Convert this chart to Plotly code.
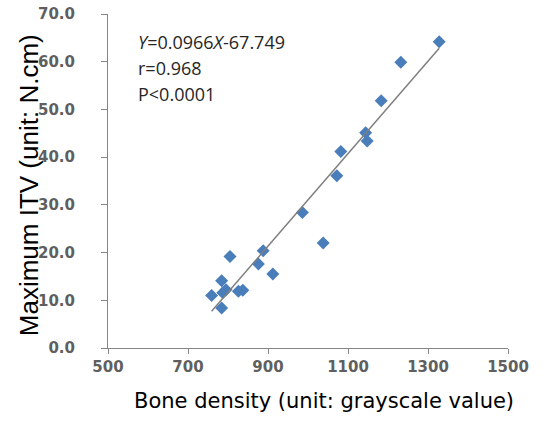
import plotly.graph_objects as go

# Data
bone_density = [759, 784, 784, 787, 795, 805, 826, 837, 876, 888, 912,
                986, 1038, 1072, 1082, 1144, 1148, 1183, 1232, 1328]
max_itv = [11.0, 14.1, 8.4, 11.6, 12.2, 19.2, 11.9, 12.1, 17.6, 20.4, 15.5,
           28.4, 22.0, 36.1, 41.2, 45.1, 43.4, 51.8, 59.9, 64.2]
fit_x = [759, 1328]
fit_y = [7.7, 62.8]

x_ticks = [500, 700, 900, 1100, 1300, 1500]
y_ticks = [0, 10, 20, 30, 40, 50, 60, 70]

fig = go.Figure()
fig.add_trace(go.Scatter(x=bone_density, y=max_itv, mode="markers",
                         marker=dict(symbol="diamond", size=10, color="#4A7EBB"),
                         showlegend=False))
fig.add_trace(go.Scatter(x=fit_x, y=fit_y, mode="lines",
                         line=dict(color="#7F7F7F", width=1.5),
                         showlegend=False))

tick_font = dict(family="DejaVu Sans", size=15, color="#5F5F5F", weight="bold")
title_font_x = dict(family="DejaVu Sans", size=21, color="black")
title_font_y = dict(family="Liberation Sans", size=26, color="black")
fig.update_layout(
    width=547, height=421,
    margin=dict(l=108, r=39, t=14, b=73, autoexpand=False),
    paper_bgcolor="white", plot_bgcolor="white",
    xaxis=dict(range=[500, 1500], tickvals=x_ticks, ticktext=[str(v) for v in x_ticks],
               showgrid=False, zeroline=False, showline=True, linecolor="#868686",
               linewidth=1, ticks="outside", ticklen=5, tickcolor="#868686",
               tickfont=tick_font, automargin=False, ticklabeloverflow="allow"),
    # labelled y axis: long invisible ticks push the labels away from the axis line
    yaxis=dict(range=[0, 70], tickvals=y_ticks,
               ticktext=[f"{v:.1f}" for v in y_ticks],
               showgrid=False, zeroline=False, showline=False,
               ticks="outside", ticklen=29, tickcolor="rgba(0,0,0,0)",
               tickfont=tick_font, automargin=False, ticklabeloverflow="allow"),
    # overlay y axis: the visible axis line and short ticks
    yaxis2=dict(range=[0, 70], tickvals=y_ticks, overlaying="y", side="left",
                showgrid=False, zeroline=False, showline=True, linecolor="#868686",
                linewidth=1, ticks="outside", ticklen=6, tickcolor="#868686",
                showticklabels=False, automargin=False),
)
# an empty trace so the overlay axis is drawn
fig.add_trace(go.Scatter(x=[], y=[], yaxis="y2", showlegend=False, hoverinfo="skip"))

# axis titles placed as annotations in paper coordinates
fig.add_annotation(text="Bone density (unit: grayscale value)", xref="paper", yref="paper",
                   x=0.54, y=-0.16, xanchor="center", yanchor="middle", showarrow=False,
                   font=title_font_x)
fig.add_annotation(text="Maximum ITV (unit: N.cm)", xref="paper", yref="paper",
                   x=-0.197, y=0.488, xanchor="center", yanchor="middle", showarrow=False,
                   textangle=-90, font=title_font_y)

ann_font = dict(family="Open Sans", size=18, color="#262626")
lines = ["<i>Y</i>=0.0966<i>X</i>-67.749", "r=0.968", "P<0.0001"]
ys = [0.915, 0.838, 0.761]
for t, yy in zip(lines, ys):
    fig.add_annotation(text=t, xref="paper", yref="paper", x=0.07, y=yy,
                       xanchor="left", yanchor="middle", showarrow=False, font=ann_font)

fig.write_html("out.html", config={"displayModeBar": False},
               post_script="document.body.style.margin='0';")
